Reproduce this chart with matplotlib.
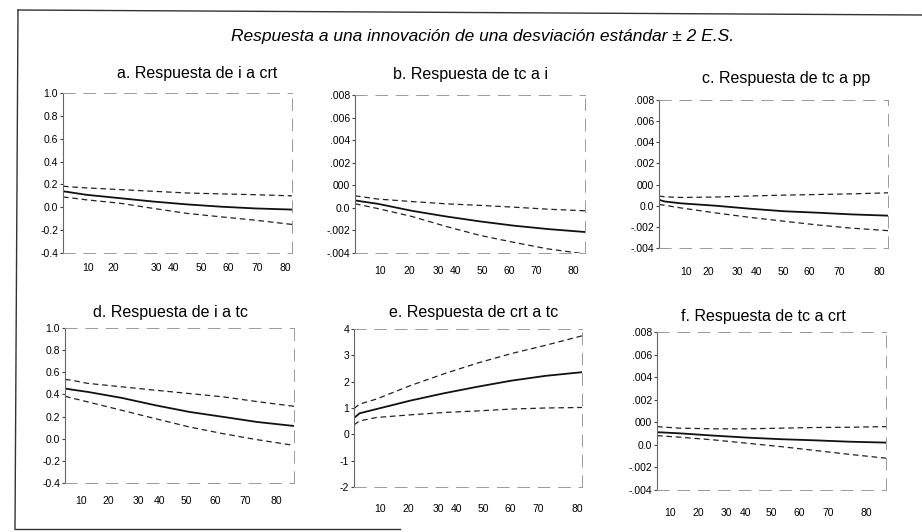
import matplotlib
matplotlib.use("Agg")
import matplotlib.pyplot as plt
from matplotlib.lines import Line2D

plt.rcParams['font.family'] = ['Liberation Sans', 'DejaVu Sans']

# ---------------- data ----------------
periods = [1, 3, 9, 21, 33, 45, 57, 69, 82]
xtick_labels = ["10", "20", "30", "40", "50", "60", "70", "80"]

# a. Respuesta de i a crt
a_resp  = [0.14, 0.133, 0.11, 0.08, 0.05, 0.025, 0.005, -0.01, -0.02]
a_upper = [0.185, 0.18, 0.17, 0.155, 0.14, 0.125, 0.117, 0.11, 0.10]
a_lower = [0.09, 0.085, 0.066, 0.036, -0.01, -0.054, -0.084, -0.113, -0.15]

# b. Respuesta de tc a i   (values in tick-position units)
b_resp  = [2.33, 2.29, 2.18, 1.87, 1.62, 1.40, 1.21, 1.06, 0.93]
b_upper = [2.53, 2.50, 2.39, 2.28, 2.18, 2.11, 2.03, 1.94, 1.87]
b_lower = [2.18, 2.13, 1.97, 1.62, 1.18, 0.78, 0.47, 0.18, -0.04]

# c. Respuesta de tc a pp
c_resp  = [2.28, 2.20, 2.11, 2.00, 1.86, 1.74, 1.67, 1.59, 1.53]
c_upper = [2.46, 2.42, 2.39, 2.41, 2.46, 2.50, 2.53, 2.56, 2.61]
c_lower = [2.06, 2.02, 1.89, 1.66, 1.45, 1.27, 1.09, 0.94, 0.82]

# d. Respuesta de i a tc
d_resp  = [0.454, 0.445, 0.423, 0.369, 0.302, 0.242, 0.197, 0.151, 0.115]
d_upper = [0.535, 0.53, 0.50, 0.469, 0.438, 0.408, 0.378, 0.335, 0.293]
d_lower = [0.384, 0.37, 0.333, 0.257, 0.181, 0.106, 0.045, -0.009, -0.06]

# e. Respuesta de crt a tc
e_resp  = [0.62, 0.80, 0.96, 1.28, 1.56, 1.81, 2.04, 2.22, 2.36]
e_upper = [0.98, 1.15, 1.34, 1.85, 2.30, 2.71, 3.07, 3.38, 3.74]
e_lower = [0.36, 0.51, 0.64, 0.74, 0.83, 0.89, 0.96, 1.00, 1.02]

# f. Respuesta de tc a crt
f_resp  = [2.56, 2.55, 2.51, 2.41, 2.32, 2.25, 2.20, 2.14, 2.10]
f_upper = [2.81, 2.79, 2.74, 2.71, 2.71, 2.74, 2.77, 2.78, 2.81]
f_lower = [2.41, 2.39, 2.34, 2.22, 2.07, 1.92, 1.75, 1.58, 1.41]

# y tick labels
yt_i = [-0.4, -0.2, 0.0, 0.2, 0.4, 0.6, 0.8, 1.0]
yl_i = ["-0.4", "-0.2", "0.0", "0.2", "0.4", "0.6", "0.8", "1.0"]
yt_tc = [0, 1, 2, 3, 4, 5, 6, 7]
yl_tc = ["-.004", "-.002", "0.0", "000", ".002", ".004", ".006", ".008"]
yt_crt = [-2, -1, 0, 1, 2, 3, 4]
yl_crt = ["-2", "-1", "0", "1", "2", "3", "4"]

titles = ["a. Respuesta de i a crt", "b. Respuesta de tc a i", "c. Respuesta de tc a pp",
          "d. Respuesta de i a tc", "e. Respuesta de crt a tc", "f. Respuesta de tc a crt"]
main_title = "Respuesta a una innovación de una desviación estándar ± 2 E.S."

# ---------------- layout ----------------
W, H = 922, 532
fig = plt.figure(figsize=(W / 100, H / 100), dpi=100)

def px_axes(l, t, r, b):
    return fig.add_axes([l / W, 1 - b / H, (r - l) / W, (b - t) / H])

panels = [
    dict(box=(63, 93, 292, 253), series=(a_resp, a_upper, a_lower), yt=yt_i, yl=yl_i,
         xt=[9.9, 18.7, 34.1, 40.0, 50.1, 59.5, 69.6, 79.6], pad=7.5, title_xy=(197, 73)),
    dict(box=(355, 95, 585, 253), series=(b_resp, b_upper, b_lower), yt=yt_tc, yl=yl_tc,
         xt=[9.8, 20.1, 30.3, 36.4, 45.8, 55.2, 64.7, 77.9], pad=9, title_xy=(470, 75)),
    dict(box=(659, 100, 888, 248), series=(c_resp, c_upper, c_lower), yt=yt_tc, yl=yl_tc,
         xt=[10.4, 18.3, 28.9, 35.4, 44.9, 54.3, 64.9, 79.1], pad=14, title_xy=(786, 78)),
    dict(box=(65, 328, 294, 483), series=(d_resp, d_upper, d_lower), yt=yt_i, yl=yl_i,
         xt=[6.5, 16.3, 26.9, 34.6, 44.0, 54.1, 64.7, 75.9], pad=9, title_xy=(170, 312)),
    dict(box=(354, 329, 582, 487), series=(e_resp, e_upper, e_lower), yt=yt_crt, yl=yl_crt,
         xt=[10.3, 20.3, 31.0, 37.3, 46.8, 56.5, 66.4, 80.2], pad=12, title_xy=(474, 313)),
    dict(box=(657, 332, 886, 490), series=(f_resp, f_upper, f_lower), yt=yt_tc, yl=yl_tc,
         xt=[5.5, 15.5, 25.7, 32.2, 41.6, 51.4, 61.7, 75.2], pad=13.3, title_xy=(763, 317)),
]

for p, title in zip(panels, titles):
    ax = px_axes(*p["box"])
    resp, up, lo = p["series"]
    ax.plot(periods, up, color="#222222", lw=0.9, ls=(0, (4.5, 3)))
    ax.plot(periods, lo, color="#222222", lw=0.9, ls=(0, (4.5, 3)))
    ax.plot(periods, resp, color="#111111", lw=1.3, ls="-")
    ax.set_xlim(1, 82)
    ax.set_ylim(p["yt"][0], p["yt"][-1])
    ax.set_yticks(p["yt"])
    ax.set_yticklabels(p["yl"], fontsize=7.5)
    ax.set_xticks(p["xt"])
    ax.set_xticklabels(xtick_labels, fontsize=7.5)
    ax.tick_params(axis="x", length=0, pad=p["pad"])
    ax.tick_params(axis="y", length=2.5, width=0.8, pad=1, color="#444444")
    for s in ("top", "bottom", "right"):
        ax.spines[s].set_color("#9a9a9a")
        ax.spines[s].set_linewidth(0.7)
        ax.spines[s].set_linestyle((0, (12, 9)))
    ax.spines["left"].set_color("#666666")
    ax.spines["left"].set_linewidth(0.8)
    ax.patch.set_alpha(0)
    tx, ty = p["title_xy"]
    fig.text(tx / W, 1 - ty / H, title, ha="center", va="center", fontsize=11.5)

fig.text(483 / W, 1 - 36 / H, main_title, ha="center", va="center",
         fontsize=12.5, style="italic")

# outer frame (partially visible in scan)
def fl(x0, y0, x1, y1, **kw):
    fig.add_artist(Line2D([x0 / W, x1 / W], [1 - y0 / H, 1 - y1 / H],
                          transform=fig.transFigure, **kw))

fl(18, 10, 922, 15, color="#333333", lw=1.0)
fl(18, 10, 15, 529, color="#333333", lw=1.0)
fl(15, 529, 400, 529, color="#333333", lw=1.0)

fig.savefig("out.png", dpi=100)
